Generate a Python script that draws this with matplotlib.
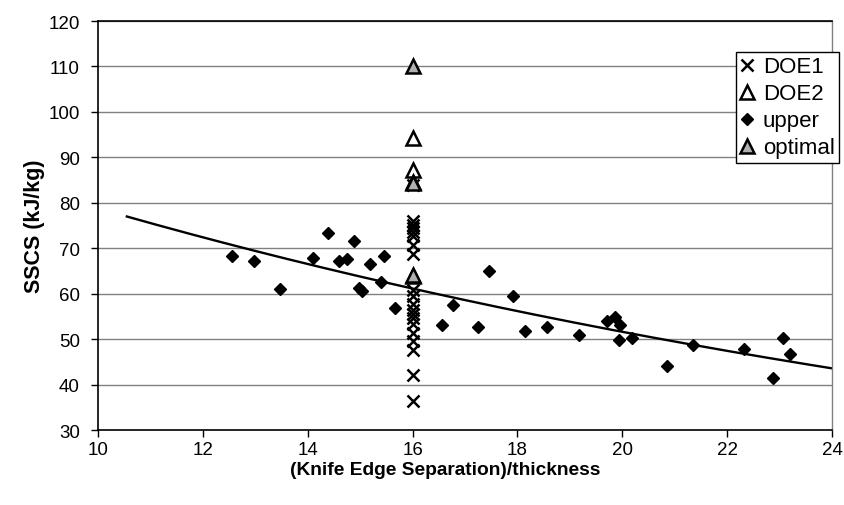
import numpy as np
import matplotlib
matplotlib.use("Agg")
import matplotlib.pyplot as plt

plt.rcParams['font.family'] = ['Liberation Sans', 'DejaVu Sans']

# upper-bound runs
upper_x = [12.55, 12.98, 13.47, 14.11, 14.39, 14.59, 14.74, 14.88, 14.98, 15.03,
           15.19, 15.40, 15.45, 15.67, 16.56, 16.78, 17.25, 17.46, 17.92, 18.14,
           18.57, 19.17, 19.70, 19.87, 19.96, 19.94, 20.19, 20.85, 21.34, 22.32,
           22.87, 23.07, 23.19]
upper_y = [68.4, 67.1, 61.0, 67.8, 73.3, 67.1, 67.6, 71.5, 61.2, 60.7,
           66.5, 62.6, 68.4, 56.9, 53.2, 57.6, 52.7, 65.0, 59.6, 51.8,
           52.6, 51.0, 53.9, 54.9, 53.1, 49.9, 50.3, 44.2, 48.7, 47.8,
           41.5, 50.3, 46.8]

# designed experiments, all at a separation/thickness of 16
doe1_y = [36.3, 42.2, 47.6, 49.7, 51.3, 53.3, 54.7, 55.6, 56.4, 57.8, 59.6, 60.8,
          68.8, 70.7, 72.8, 73.6, 74.4, 75.2, 76.0, 84.0]
doe1_x = [16.0] * len(doe1_y)
doe2_y = [94.2, 87.2, 84.6, 63.8]
doe2_x = [16.0] * len(doe2_y)
optimal_y = [110.0, 84.3, 64.1]
optimal_x = [16.0] * len(optimal_y)

# exponential trend  y = A * exp(B * x)
trend_a = 120.3
trend_b = -0.0423
trend_range = [10.55, 24.0]

fig = plt.figure(figsize=(8.45, 5.06), dpi=100)
ax = fig.add_axes([0.116, 0.148, 0.8686, 0.8085])

for y in range(40, 121, 10):
    ax.axhline(y, color='#808080', lw=1.0, zorder=0)

tx = np.linspace(trend_range[0], trend_range[1], 200)
ax.plot(tx, trend_a * np.exp(trend_b * tx), color='black', lw=1.7, zorder=2)

h_doe1, = ax.plot(doe1_x, doe1_y, ls='none', marker='x', ms=9, mew=1.8,
                  color='black', label='DOE1', zorder=3)
h_doe2, = ax.plot(doe2_x, doe2_y, ls='none', marker='^', ms=10, mew=1.8,
                  mfc='white', mec='black', label='DOE2', zorder=4)
h_up, = ax.plot(upper_x, upper_y, ls='none', marker='D', ms=6.5,
                color='black', label='upper', zorder=3)
h_opt, = ax.plot(optimal_x, optimal_y, ls='none', marker='^', ms=10, mew=1.8,
                 mfc='#b0b0b0', mec='black', label='optimal', zorder=5)

ax.set_xlim(10, 24)
ax.set_ylim(30, 120)
ax.set_xticks(range(10, 25, 2))
ax.set_yticks(range(30, 121, 10))
ax.tick_params(direction='out', length=5, width=1, labelsize=13.5, color='black')
ax.tick_params(axis='y', pad=8)
ax.tick_params(axis='x', pad=2.5)

for s in ['left', 'bottom', 'top']:
    ax.spines[s].set_color('black')
    ax.spines[s].set_linewidth(1.2)
ax.spines['right'].set_color('#808080')
ax.spines['right'].set_linewidth(1.0)

ax.set_xlabel('(Knife Edge Separation)/thickness', fontsize=13.8, fontweight='bold')
ax.xaxis.set_label_coords(0.473, -0.097)
ax.xaxis.label.set_verticalalignment('center')
ax.set_ylabel('SSCS (kJ/kg)', fontsize=15.5, fontweight='bold')
ax.yaxis.set_label_coords(-0.086, 0.5)
ax.yaxis.label.set_verticalalignment('center')

leg = fig.legend(handles=[h_doe1, h_doe2, h_up, h_opt], loc='upper left',
                 bbox_to_anchor=(736 / 845, 1 - 53 / 506), fontsize=16,
                 frameon=True, fancybox=False, framealpha=1, edgecolor='black',
                 handlelength=0.6, handletextpad=0.4, borderpad=0.2,
                 labelspacing=0.27, borderaxespad=0)
leg.get_frame().set_linewidth(1.0)

fig.savefig('out.png', dpi=100)
